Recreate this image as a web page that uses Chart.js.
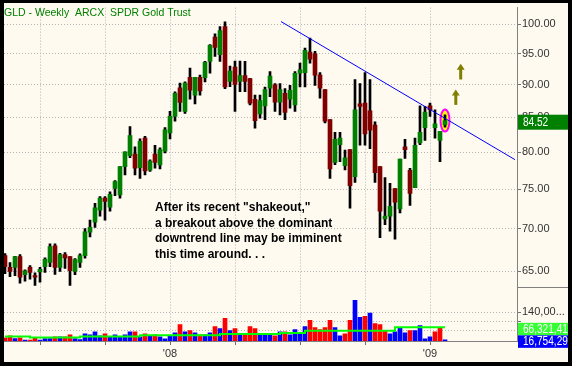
<!DOCTYPE html>
<html>
<head>
<meta charset="utf-8">
<script src="https://cdn.jsdelivr.net/npm/chart.js@4/dist/chart.umd.min.js"></script>
<style>
  html, body { margin: 0; padding: 0; background: #000; }
  canvas { display: block; }
</style>
</head>
<body>
<canvas id="gld" width="572" height="366"></canvas>
<script>
// weekly candles, oldest first (late May 2007 .. mid Jan 2009)
const open = [66.78,65.42,65.42,66.66,64.59,65.42,64.48,64.89,65.50,66.00,
    67.94,65.42,66.90,66.66,64.96,66.00,66.78,69.58,70.79,72.29,
    73.83,72.66,75.08,74.25,78.01,79.50,79.73,77.88,81.99,77.51,
    79.73,78.24,80.14,82.72,85.15,89.50,85.90,91.16,88.39,91.16,
    91.11,93.75,97.81,94.84,99.61,90.54,92.81,90.54,91.44,90.99,
    87.75,85.54,86.74,89.45,90.00,87.30,88.65,87.75,86.89,91.82,
    91.93,95.29,95.00,91.53,89.24,84.67,78.59,81.06,78.15,80.36,
    76.66,87.04,87.15,85.99,83.89,78.01,71.20,71.54,75.08,72.45,
    80.74,77.51,75.18,81.29,83.51,86.74,83.51,81.67,83.90];
const high = [67.00,65.97,66.70,66.90,65.15,65.62,64.81,65.42,66.51,68.18,
    68.18,67.05,67.13,66.66,66.43,66.98,70.00,71.04,73.16,74.04,
    74.04,74.66,76.12,78.01,80.04,83.65,80.74,81.89,82.26,78.92,
    80.97,80.60,83.51,85.90,88.90,90.28,90.45,92.64,91.16,91.53,
    93.75,96.52,98.37,99.61,100.47,92.97,93.80,93.80,93.75,91.00,
    88.39,88.39,89.65,92.09,90.17,90.17,89.40,89.89,92.09,93.47,
    95.96,97.64,95.40,91.93,89.24,84.67,82.82,82.82,80.28,80.36,
    90.83,90.17,91.93,90.83,84.36,78.01,76.53,75.76,75.08,79.05,
    81.81,77.78,81.99,86.74,86.65,87.15,86.14,82.96,85.39];
const low = [64.70,64.37,64.48,63.64,63.86,64.08,63.38,63.75,64.85,65.50,
    64.63,64.96,65.30,63.38,64.59,65.42,66.47,68.99,70.16,71.54,
    71.04,72.16,74.16,73.83,76.89,79.23,76.89,76.43,76.89,77.34,
    77.78,77.70,79.91,81.89,84.44,85.90,85.60,87.75,87.04,88.39,
    90.45,91.82,94.57,93.75,89.40,89.70,85.90,88.90,88.90,86.89,
    83.42,84.90,84.67,88.15,85.90,85.39,84.67,86.40,85.90,89.65,
    89.65,93.47,89.89,87.90,84.21,76.43,78.28,78.69,77.57,72.55,
    75.89,80.97,80.97,80.50,75.89,68.91,70.50,69.69,68.72,71.95,
    79.14,72.88,75.18,81.06,81.67,85.15,81.99,78.69,83.58];
const close = [65.50,64.96,66.66,64.30,65.03,64.85,64.30,65.19,66.35,67.83,
    65.42,66.90,66.51,65.03,66.32,66.78,69.60,70.16,72.58,73.83,
    73.41,74.33,75.99,78.01,80.04,82.36,77.78,81.53,77.43,78.78,
    78.59,80.36,83.19,85.15,88.65,87.25,90.28,89.14,91.16,89.05,
    93.58,96.41,96.08,98.94,89.65,92.19,90.05,91.44,90.54,87.15,
    84.53,87.55,89.24,91.37,87.30,89.24,85.75,89.14,91.82,92.36,
    95.57,94.13,91.53,89.45,84.44,77.70,81.81,81.99,79.23,75.45,
    86.14,86.65,82.58,83.14,77.20,72.16,71.54,72.79,73.32,79.05,
    80.36,74.45,80.97,82.82,85.80,86.14,84.07,82.96,84.52];
// volume in millions of shares
const volume = [15,25,12,15,5,5,15,5,12,12,
    20,20,20,30,12,7,35,30,45,25,
    35,20,30,20,30,45,45,20,35,25,
    30,20,10,25,40,80,45,50,40,30,
    30,40,70,60,110,50,60,30,30,70,
    60,35,35,35,25,45,45,30,55,35,
    70,100,65,55,65,100,65,25,35,100,
    197,115,120,135,85,80,50,35,45,65,
    40,50,50,75,10,20,45,65,6];
// volume average (steps), week index -> millions
const volAvgWeek = [0, 5, 15, 27, 43, 55, 60, 78, 88];
const volAvg = [21.5, 16.5, 21.5, 28.5, 33.5, 38.5, 50, 66.3, 66.3];

// downtrend line (week index, price)
const trendWeek = [55.2, 102];
const trendPrice = [100.5, 78.96];

const priceTicks = [65, 70, 75, 80, 85, 90, 95, 100];
const volTicks = [50, 95, 140];
const quarterWeeks = [7, 20, 33, 46, 59, 72, 85];
const yearLabels = { 33: "'08", 85: "'09" };

const lastPrice = 84.52;
const volLabels = ['66,321,41', '16,754,29'];
const note = ['After its recent "shakeout,"', 'a breakout above the dominant',
    'downtrend line may be imminent', 'this time around. . .'];
// arrows: week index, bottom price, tip price
const arrows = [[90.16, 86.89, 89.25], [91.14, 90.83, 93.35]];

const UP = '#008000', DOWN = '#800000';
const SANS = "'Liberation Sans', Arial, sans-serif";

const idx = close.map((c, i) => i);
const bodyColors = idx.map(i => close[i] >= open[i] ? UP : DOWN);
const volColors = idx.map(i => (i > 0 && close[i] >= close[i - 1]) ? '#0000ff' : '#ff0000');

// narrow-ish text for the label column
function squeezeText(c, t, x, y) {
    c.save();
    c.translate(x, y);
    c.scale(0.84, 1);
    c.fillText(t, 0, 0);
    c.restore();
}

const decor = {
    id: 'decor',
    beforeDraw(chart) {
        const c = chart.ctx;
        c.save();
        c.fillStyle = '#fffaf0';
        c.fillRect(0, 0, chart.width, chart.height);
        c.restore();
    },
    beforeDatasetsDraw(chart) {
        const c = chart.ctx, x = chart.scales.x, y = chart.scales.y;
        const cx = x.getPixelForValue(88), cy = y.getPixelForValue(84.55);
        c.save();
        c.beginPath();
        c.ellipse(cx, cy, 4.5, 11, 0, 0, Math.PI * 2);
        c.fillStyle = '#ffff00';
        c.fill();
        c.lineWidth = 2;
        c.strokeStyle = '#ff00ff';
        c.stroke();
        c.restore();
    },
    afterDraw(chart) {
        const c = chart.ctx, x = chart.scales.x, y = chart.scales.y, yv = chart.scales.yv;
        const a = chart.chartArea;
        c.save();
        // title
        c.font = "10.5px " + SANS;
        c.fillStyle = '#008000';
        c.textBaseline = 'alphabetic';
        c.fillText('GLD - Weekly  ARCX  SPDR Gold Trust', 4, 16);
        // comment
        c.font = "bold 12px " + SANS;
        c.fillStyle = '#000';
        note.forEach((t, k) => c.fillText(t, 155, 211 + k * 15.5));
        // arrows
        c.fillStyle = '#808000';
        arrows.forEach(([w, p0, p1]) => {
            const ax = x.getPixelForValue(w), yb = y.getPixelForValue(p0), yt = y.getPixelForValue(p1);
            c.fillRect(ax - 1.5, yt + 5, 3, yb - yt - 5);
            c.beginPath();
            c.moveTo(ax, yt);
            c.lineTo(ax + 4, yt + 6);
            c.lineTo(ax - 4, yt + 6);
            c.closePath();
            c.fill();
        });
        // right side labels
        const py = y.getPixelForValue(lastPrice) + 1.5;
        c.fillStyle = '#008000';
        c.fillRect(a.right + 1, py - 7.5, 55, 15);
        c.fillStyle = '#fff';
        c.font = '12px ' + SANS;
        c.textBaseline = 'middle';
        squeezeText(c, lastPrice.toFixed(2), a.right + 6, py);
        const gv = yv.getPixelForValue(volAvg[volAvg.length - 1]) - 4.5;
        c.fillStyle = '#33ff33';
        c.fillRect(a.right + 1, gv, 55, 12.5);
        c.fillStyle = '#0000ff';
        c.fillRect(a.right + 1, gv + 12.5, 55, 12.5);
        c.fillStyle = '#fff';
        squeezeText(c, volLabels[0], a.right + 6, gv + 6.5);
        squeezeText(c, volLabels[1], a.right + 6, gv + 19);
        // divider between panels in the label column
        c.strokeStyle = '#808080';
        c.lineWidth = 1;
        c.beginPath();
        c.moveTo(a.right, Math.round(y.bottom) + 0.5);
        c.lineTo(chart.width, Math.round(y.bottom) + 0.5);
        c.stroke();
        // black frame
        c.fillStyle = '#000';
        c.fillRect(0, 0, 4, chart.height);
        c.fillRect(0, 0, chart.width, 3);
        c.fillRect(568, 0, 4, chart.height);
        c.fillRect(0, 362, chart.width, 4);
        c.restore();
    }
};

const gridStyle = { color: '#b4b4b4', tickColor: '#707070', tickLength: 4, tickBorderDash: [1, 0] };
const borderStyle = { display: true, color: '#808080', dash: [1, 2] };
const tickFont = { family: SANS, size: 11 };

new Chart(document.getElementById('gld'), {
    type: 'bar',
    data: {
        datasets: [
            {
                type: 'line', label: 'trend', order: 1,
                data: trendWeek.map((w, k) => ({ x: w, y: trendPrice[k] })),
                borderColor: '#0000ff', borderWidth: 1, pointRadius: 0, fill: false,
                xAxisID: 'x', yAxisID: 'y'
            },
            {
                label: 'body', order: 2, grouped: false,
                data: idx.map(i => ({ x: i, y: [open[i], close[i]] })),
                backgroundColor: bodyColors, barThickness: 4, minBarLength: 1,
                xAxisID: 'x', yAxisID: 'y'
            },
            {
                label: 'wick', order: 3, grouped: false,
                data: idx.map(i => ({ x: i, y: [low[i], high[i]] })),
                backgroundColor: '#000', barThickness: 2,
                xAxisID: 'x', yAxisID: 'y'
            },
            {
                type: 'line', label: 'avg vol', order: 4,
                data: volAvgWeek.map((w, k) => ({ x: w, y: volAvg[k] })),
                borderColor: '#00ff00', borderWidth: 2, pointRadius: 0, fill: false,
                stepped: 'before', xAxisID: 'x', yAxisID: 'yv'
            },
            {
                label: 'volume', order: 5, grouped: false,
                data: idx.map(i => ({ x: i, y: volume[i] })),
                backgroundColor: volColors, barThickness: 4,
                xAxisID: 'x', yAxisID: 'yv'
            }
        ]
    },
    options: {
        responsive: false,
        animation: false,
        layout: { padding: { left: 4, top: 4, right: 0, bottom: 5 } },
        plugins: { legend: { display: false }, tooltip: { enabled: false } },
        scales: {
            x: {
                type: 'linear', min: -0.2, max: 102.4, offset: false,
                grid: { ...gridStyle, offset: false },
                border: borderStyle,
                afterBuildTicks: s => { s.ticks = quarterWeeks.map(v => ({ value: v })); },
                afterFit: s => { s.height = 20; },
                ticks: {
                    autoSkip: false, maxRotation: 0, padding: 2, color: '#333',
                    font: tickFont,
                    callback: v => yearLabels[v] || ''
                }
            },
            y: {
                type: 'logarithmic', position: 'right', stack: 'panes', stackWeight: 282,
                min: 63.26, max: 102.98,
                grid: gridStyle, border: borderStyle,
                afterBuildTicks: s => { s.ticks = priceTicks.map(v => ({ value: v })); },
                afterFit: s => { s.width = 55; },
                ticks: {
                    autoSkip: false, padding: 1, color: '#333',
                    font: tickFont,
                    callback: v => Number(v).toFixed(2)
                }
            },
            yv: {
                type: 'linear', position: 'right', stack: 'panes', stackWeight: 55,
                min: 0, max: 264,
                grid: gridStyle, border: borderStyle,
                afterBuildTicks: s => { s.ticks = volTicks.map(v => ({ value: v })); },
                afterFit: s => { s.width = 55; },
                ticks: {
                    autoSkip: false, padding: 1, color: '#333',
                    font: tickFont,
                    callback: v => v === 140 ? '140,00...' : ''
                }
            }
        }
    },
    plugins: [decor]
});
</script>
</body>
</html>
